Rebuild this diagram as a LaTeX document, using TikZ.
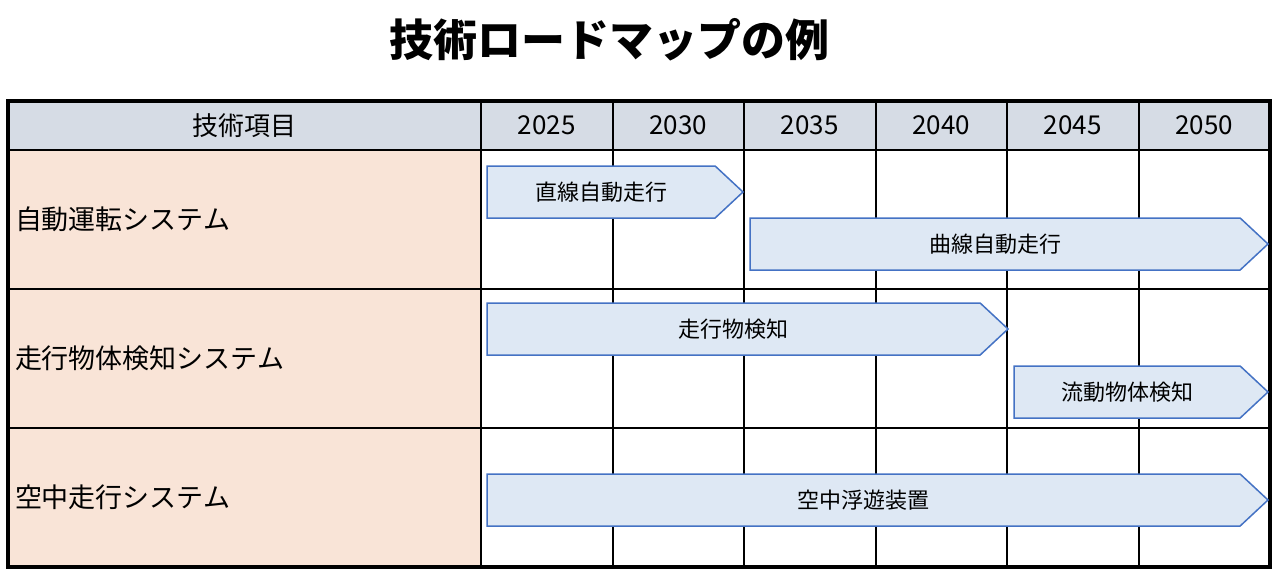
\documentclass[tikz,border=0pt]{standalone}
\usepackage{fontspec}
\setmainfont{Noto Sans CJK JP}
\usepackage{tikz}
\usetikzlibrary{shapes, shapes.symbols, positioning, calc}
\definecolor{headgray}{HTML}{D6DCE5}
\definecolor{itempeach}{HTML}{F9E4D7}
\definecolor{barfill}{HTML}{DEE8F4}
\definecolor{barblue}{HTML}{4472C4}

\begin{document}
\begin{tikzpicture}[x=1pt, y=-1pt, line width=2pt, inner sep=0pt, outer sep=0pt,
  head node/.style={rectangle, draw, fill=headgray, anchor=north west,
    minimum width=131.5pt, minimum height=49pt, font=\fontsize{26}{26}\selectfont},
  item node/.style={rectangle, draw, fill=itempeach, anchor=north west,
    minimum width=473pt, minimum height=139pt, text width=459pt, inner xsep=7pt,
    align=left, font=\fontsize{27}{27}\selectfont},
  bar node/.style={signal, signal to=east, signal pointer angle=86, draw=barblue,
    fill=barfill, line width=1.5pt, minimum height=52pt, anchor=west,
    font=\fontsize{22}{22}\selectfont}]
  \useasboundingbox (0,0) rectangle (1280,578);
  \node[font=\fontsize{44}{44}\selectfont\bfseries] (title) at (609,40) {技術ロードマップの例};
  % header row
  \node[head node, minimum width=473pt] (h0) at (8,101) {技術項目};
  \node[head node, right=0pt of h0] (h1) {2025};
  \node[head node, right=0pt of h1] (h2) {2030};
  \node[head node, right=0pt of h2] (h3) {2035};
  \node[head node, right=0pt of h3] (h4) {2040};
  \node[head node, right=0pt of h4] (h5) {2045};
  \node[head node, right=0pt of h5] (h6) {2050};
  % technology items
  \node[item node, below=0pt of h0] (r1) {自動運転システム};
  \node[item node, below=0pt of r1] (r2) {走行物体検知システム};
  \node[item node, below=0pt of r2] (r3) {空中走行システム};
  \foreach \n in {h1,h2,h3,h4,h5}
    \draw (\n.south east) -- (\n.south east |- r3.south);
  \draw (r1.south east) -- (r1.south -| h6.east);
  \draw (r2.south east) -- (r2.south -| h6.east);
  \draw[line width=3.2pt] (h0.north west) rectangle (r3.south -| h6.east);
  % roadmap bars
  \node[bar node, minimum width=256pt] (b1) at (487,192) {直線自動走行};
  \node[bar node, minimum width=518pt] (b2) at (750,244) {曲線自動走行};
  \node[bar node, minimum width=521pt] (b3) at (487,329) {走行物検知};
  \node[bar node, minimum width=254pt] (b4) at (1014,392) {流動物体検知};
  \node[bar node, minimum width=781pt] (b5) at (487,500) {空中浮遊装置};
\end{tikzpicture}
\end{document}
